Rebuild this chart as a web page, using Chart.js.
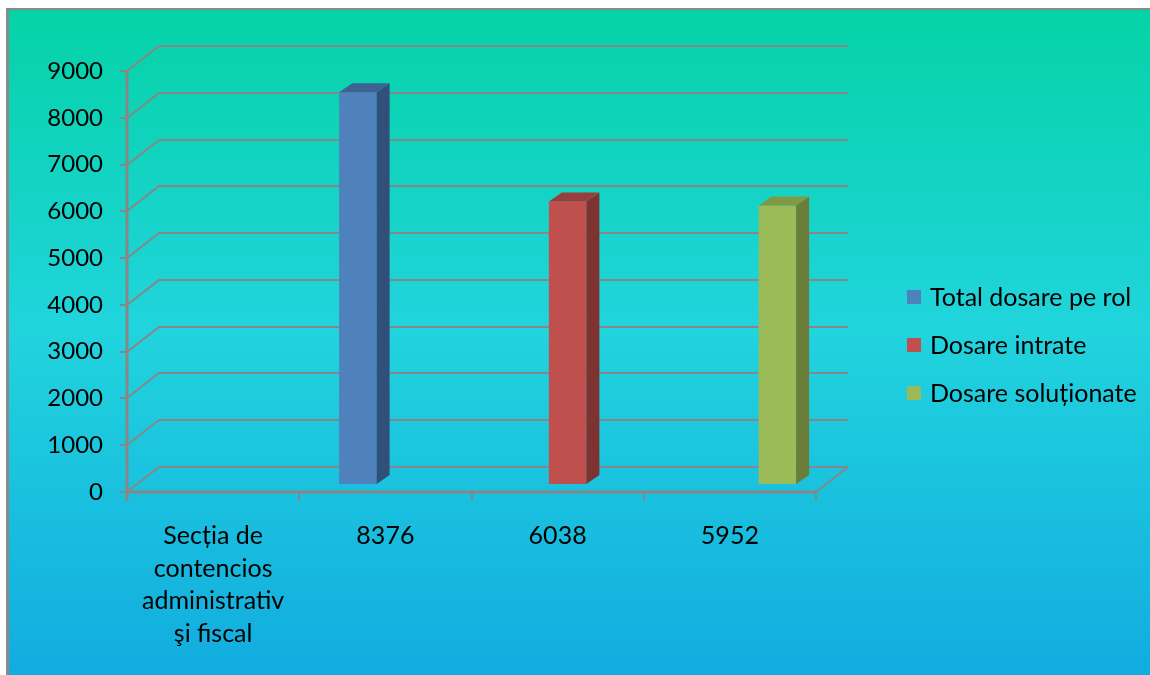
<!DOCTYPE html>
<html>
<head>
<meta charset="utf-8">
<script src="https://cdn.jsdelivr.net/npm/chart.js@4.4.1/dist/chart.umd.min.js"></script>
<style>
  html,body{margin:0;padding:0;background:#fff;}
  canvas{display:block;}
</style>
</head>
<body>
<canvas id="c" width="1150" height="675"></canvas>
<script>
'use strict';

// ── DATA ────────────────────────────────────────────────
const categories = [['Secția de','contencios','administrativ','şi fiscal'], '8376', '6038', '5952'];
const seriesNames = ['Total dosare pe rol', 'Dosare intrate', 'Dosare soluționate'];
const totalValues = [null, 8376, null, null];
const intrateValues = [null, null, 6038, null];
const solutionateValues = [null, null, null, 5952];
const yMin = 0, yMax = 9000, yStep = 1000;

// front / top / side shades per series
const frontColors = ['#4F81BD', '#C0504D', '#9BBB59'];
const topColors   = ['#3E6291', '#9A3E3B', '#7E9A45'];
const sideColors  = ['#30507A', '#7E3331', '#6A7D39'];

const FONT = 'Lato';
const GRID = '#878787';
// 3D offsets
const DEPTH = { dx: 32, dy: -25 };   // floor / back wall
const BAR_SHIFT = { dx: 10, dy: -8 }; // bars stand at this depth
const BAR_DEPTH = { dx: 13, dy: -9 };

// ── BACKGROUND + 3D FRAME ───────────────────────────────
const frame3d = {
  id: 'frame3d',
  beforeDraw(chart){
    const {ctx, chartArea: a, scales: {x, y}} = chart;
    ctx.save();
    ctx.fillStyle = '#fff';
    ctx.fillRect(0, 0, chart.width, chart.height);
    ctx.fillStyle = '#8a8a8a';
    ctx.fillRect(6, 8, chart.width - 6, chart.height - 8);
    const g = ctx.createLinearGradient(0, 10, 0, chart.height);
    g.addColorStop(0, '#04D3A6');
    g.addColorStop(0.48, '#21D4DD');
    g.addColorStop(1, '#12ACE0');
    ctx.fillStyle = g;
    ctx.fillRect(9, 10, chart.width - 9, chart.height - 10);

    ctx.strokeStyle = GRID;
    ctx.lineWidth = 2;
    // back wall gridlines + left diagonals
    for (let v = yMin; v <= yMax; v += yStep){
      const py = Math.round(y.getPixelForValue(v));
      ctx.beginPath();
      ctx.moveTo(a.left, py);
      ctx.lineTo(a.left + DEPTH.dx, py + DEPTH.dy);
      ctx.lineTo(a.right + DEPTH.dx, py + DEPTH.dy);
      ctx.stroke();
      // tick mark
      ctx.beginPath();
      ctx.moveTo(a.left - 7, py);
      ctx.lineTo(a.left, py);
      ctx.stroke();
    }
    // floor right edge
    ctx.beginPath();
    ctx.moveTo(a.right, a.bottom);
    ctx.lineTo(a.right + DEPTH.dx, a.bottom + DEPTH.dy);
    ctx.stroke();
    // front axes
    ctx.lineWidth = 3;
    ctx.beginPath();
    ctx.moveTo(a.left, a.top);
    ctx.lineTo(a.left, a.bottom + 9);
    ctx.moveTo(a.left, a.bottom);
    ctx.lineTo(a.right, a.bottom);
    ctx.stroke();
    ctx.lineWidth = 2;
    const n = categories.length;
    const step = x.getPixelForValue(1) - x.getPixelForValue(0);
    for (let i = 0; i <= n; i++){
      const px = Math.round(x.getPixelForValue(0) - step / 2 + i * step);
      ctx.beginPath();
      ctx.moveTo(px, a.bottom);
      ctx.lineTo(px, a.bottom + 9);
      ctx.stroke();
    }
    ctx.restore();
  }
};

// ── 3D BARS ─────────────────────────────────────────────
const bars3d = {
  id: 'bars3d',
  beforeDatasetsDraw(chart){
    chart.ctx.save();
    chart.ctx.translate(BAR_SHIFT.dx, BAR_SHIFT.dy);
  },
  afterDatasetsDraw(chart){
    const ctx = chart.ctx;
    chart.data.datasets.forEach((ds, di) => {
      const meta = chart.getDatasetMeta(di);
      meta.data.forEach((el, i) => {
        if (ds.data[i] == null) return;
        const {x, y, base, width} = el.getProps(['x', 'y', 'base', 'width'], true);
        const l = x - width / 2, r = x + width / 2;
        const {dx, dy} = BAR_DEPTH;
        // side
        ctx.fillStyle = sideColors[di];
        ctx.beginPath();
        ctx.moveTo(r, y);
        ctx.lineTo(r + dx, y + dy);
        ctx.lineTo(r + dx, base + dy);
        ctx.lineTo(r, base);
        ctx.closePath();
        ctx.fill();
        // top
        ctx.fillStyle = topColors[di];
        ctx.beginPath();
        ctx.moveTo(l, y);
        ctx.lineTo(l + dx, y + dy);
        ctx.lineTo(r + dx, y + dy);
        ctx.lineTo(r, y);
        ctx.closePath();
        ctx.fill();
      });
    });
    ctx.restore();
  }
};

// ── LEGEND ──────────────────────────────────────────────
const sideLegend = {
  id: 'sideLegend',
  afterDraw(chart){
    const ctx = chart.ctx;
    ctx.save();
    ctx.font = `25px ${FONT}`;
    ctx.textBaseline = 'middle';
    chart.data.datasets.forEach((ds, i) => {
      const cy = 297 + i * 48;
      ctx.fillStyle = ds.backgroundColor;
      ctx.fillRect(907, cy - 7, 14, 14);
      ctx.fillStyle = '#000';
      ctx.fillText(ds.label, 930, cy + 1);
    });
    ctx.restore();
  }
};

const seriesData = [totalValues, intrateValues, solutionateValues];

new Chart(document.getElementById('c').getContext('2d'), {
  type: 'bar',
  data: {
    labels: categories,
    datasets: seriesNames.map((name, i) => ({
      label: name,
      data: seriesData[i],
      backgroundColor: frontColors[i],
      borderWidth: 0,
      categoryPercentage: 0.653,
      barPercentage: 1.0
    }))
  },
  options: {
    responsive: false,
    devicePixelRatio: 1,
    animation: false,
    layout: { padding: { left: 0, top: 71, right: 334, bottom: 0 } },
    plugins: {
      legend: { display: false },
      tooltip: { enabled: false }
    },
    scales: {
      x: {
        grid: { display: false, drawTicks: false },
        border: { display: false },
        ticks: {
          color: '#000',
          font: { family: FONT, size: 25, lineHeight: 1.3 },
          padding: 28,
          maxRotation: 0,
          autoSkip: false
        },
        afterFit(s){ s.height = 675 - 492; }
      },
      y: {
        min: yMin, max: yMax,
        grid: { display: false, drawTicks: false },
        border: { display: false },
        ticks: {
          stepSize: yStep,
          color: '#000',
          font: { family: FONT, size: 24 },
          padding: 24,
          callback: v => String(v)
        },
        afterFit(s){ s.width = 127; }
      }
    }
  },
  plugins: [frame3d, bars3d, sideLegend]
});
</script>
</body>
</html>
